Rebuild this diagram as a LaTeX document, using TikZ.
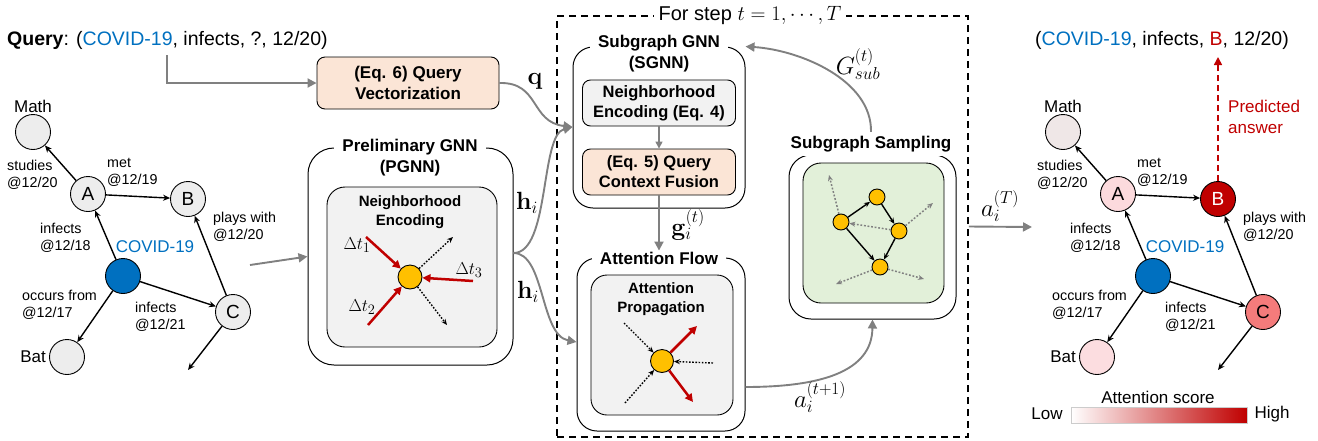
\documentclass[tikz,border=0pt]{standalone}
\usepackage[no-math]{fontspec}
\setmainfont{Liberation Sans}
\usetikzlibrary{arrows.meta,calc}
\definecolor{cblue}{HTML}{0070C0}
\definecolor{cred}{HTML}{C00000}
\definecolor{corange}{HTML}{FBE5D6}
\definecolor{cgrayfill}{HTML}{F2F2F2}
\definecolor{cgreen}{HTML}{E2F0D9}
\definecolor{cyellow}{HTML}{FFC000}
\definecolor{carrow}{HTML}{808080}
\definecolor{cnode}{HTML}{EDEDED}
\definecolor{rmath}{HTML}{EFE7E7}
\definecolor{rA}{HTML}{FCDADD}
\definecolor{rC}{HTML}{F47B7B}
\definecolor{rbat}{HTML}{FCDDE0}
\tikzset{
  gnode/.style={circle,draw=black,line width=0.9pt,minimum size=35pt,inner sep=0pt,font=\fontsize{19}{22}\selectfont},
  lbl/.style={font=\fontsize{17}{20}\selectfont,inner sep=1pt},
  elbl/.style={font=\fontsize{14.3}{17}\selectfont,align=left,anchor=west,inner sep=0pt},
  gedge/.style={draw=black,line width=1.4pt,-{Stealth[length=7pt,width=6pt]}},
  garrow/.style={draw=carrow,line width=1.9pt,-{Triangle[length=9pt,width=9pt]}},
  bigbox/.style={draw=black,line width=1pt,rounded corners=22pt},
  boxtitle/.style={fill=white,font=\bfseries\fontsize{17}{21}\selectfont,align=center,inner xsep=8pt,inner ysep=2pt},
  smallbox/.style={draw=black,line width=0.9pt,rounded corners=8pt,font=\bfseries\fontsize{16.5}{20}\selectfont,align=center,minimum width=153pt,minimum height=46pt,inner sep=0pt},
  innerbox/.style={draw=black,line width=0.9pt,rounded corners=18pt,inner sep=0pt},
  innertxt/.style={font=\bfseries\fontsize{15}{19}\selectfont,align=center,inner sep=0pt},
  ynode/.style={circle,draw=black,line width=0.9pt,fill=cyellow,inner sep=0pt},
  redarr/.style={draw=cred,line width=2.5pt,-{Triangle[length=8pt,width=8pt]}},
  dotarr/.style={draw=black,line width=1.4pt,dash pattern=on 1.6pt off 1.6pt,-{Stealth[length=6pt,width=5pt]}},
  gdotarr/.style={draw=carrow,line width=1.5pt,dash pattern=on 1.8pt off 1.8pt,-{Stealth[length=6pt,width=5pt]}},
  mlbl/.style={font=\fontsize{24}{28}\selectfont,inner sep=0pt},
}
\newcommand\drawkg[8]{%
\begin{scope}[xshift=#2]
\node[gnode,fill=#3] (#1math) at (33,132) {};
\node[lbl] (#1mathl) at (33,106) {Math};
\node[gnode,fill=#4] (#1A) at (88,194) {A};
\node[gnode,fill=#5,text=#8] (#1B) at (188,199) {B};
\node[gnode,fill=cblue] (#1cov) at (123,276) {};
\node[gnode,fill=#6] (#1C) at (233,312) {C};
\node[gnode,fill=#7] (#1bat) at (67,357) {};
\node[lbl,anchor=east] (#1batl) at (47,357) {Bat};
\coordinate (#1end) at (188,370);
\draw[gedge] (#1A) -- (#1math);
\draw[gedge] (#1A) -- (#1B);
\draw[gedge] (#1cov) -- (#1A);
\draw[gedge] (#1cov) -- (#1bat);
\draw[gedge] (#1cov) -- (#1C);
\draw[gedge] (#1C) -- (#1B);
\draw[gedge] (#1C) -- (#1end);
\node[elbl] (#1l1) at (7,175) {studies\\@12/20};
\node[elbl] (#1l2) at (107,172) {met\\@12/19};
\node[elbl] (#1l3) at (213,227) {plays with\\@12/20};
\node[elbl] (#1l4) at (40,238) {infects\\@12/18};
\node[lbl,text=cblue] (#1covl) at (155,247) {COVID-19};
\node[elbl] (#1l5) at (22,305) {occurs from\\@12/17};
\node[elbl] (#1l6) at (135,317) {infects\\@12/21};
\end{scope}}
\begin{document}
\begin{tikzpicture}[x=1pt,y=-1pt]
\useasboundingbox (0,0) rectangle (1318,440);
% ---------- query ----------
\node[font=\fontsize{19.5}{23}\selectfont,anchor=west,inner sep=0pt] (query) at (7,40) {\textbf{Query}: (\textcolor{cblue}{COVID-19}, infects, ?, 12/20)};
\coordinate (qstart) at (167,55);
\node[smallbox,fill=corange,minimum width=182pt,minimum height=52pt,font=\bfseries\fontsize{17}{21}\selectfont] (qv) at (408,83) {(Eq. 6) Query\\Vectorization};
\draw[garrow] (qstart) |- (qv.west);
% ---------- left graph ----------
\drawkg{l}{0pt}{cnode}{cnode}{cnode}{cnode}{cnode}{black}
\coordinate (pin) at (250,265);
% ---------- PGNN ----------
\node[bigbox,minimum width=205pt,minimum height=217pt,rounded corners=26pt] (pgnn) at (410.5,256.5) {};
\node[boxtitle] (pgnnt) at (410,158) {Preliminary GNN\\(PGNN)};
\node[innerbox,fill=cgrayfill,minimum width=170pt,minimum height=160pt] (pne) at (412,267) {};
\node[innertxt] (pnet) at (410,212) {Neighborhood\\Encoding};
\node[ynode,minimum size=24pt] (py) at (410,277) {};
\coordinate (pd1) at (366,237);
\coordinate (pd2) at (368,325);
\coordinate (pd3) at (473,281);
\coordinate (po1) at (453,237);
\coordinate (po2) at (447,325);
\draw[redarr] (pd1) -- (py);
\draw[redarr] (pd2) -- (py);
\draw[redarr] (pd3) -- (py);
\draw[dotarr] (py) -- (po1);
\draw[dotarr] (py) -- (po2);
\node[mlbl,font=\fontsize{19}{22}\selectfont] (dt1) at (357,245) {$\Delta t_1$};
\node[mlbl,font=\fontsize{19}{22}\selectfont] (dt2) at (362,307) {$\Delta t_2$};
\node[mlbl,font=\fontsize{19}{22}\selectfont] (dt3) at (469,270) {$\Delta t_3$};
\draw[garrow] (pin) -- (pgnn.west);
% ---------- loop box ----------
\node[draw=black,line width=1.5pt,dash pattern=on 7pt off 5pt,minimum width=411pt,minimum height=421pt,inner sep=0pt] (loop) at (762.5,226.5) {};
\node[fill=white,font=\fontsize{20}{24}\selectfont,inner xsep=5pt,inner ysep=1pt] (loopt) at (750,15) {For step $t=1,\cdots,T$};
% SGNN
\node[bigbox,minimum width=172pt,minimum height=161pt,rounded corners=20pt] (sgnn) at (659,127.5) {};
\node[boxtitle] (sgnnt) at (659,54) {Subgraph GNN\\(SGNN)};
\node[smallbox,fill=cgrayfill] (ne4) at (659,103) {Neighborhood\\Encoding (Eq. 4)};
\node[smallbox,fill=corange] (qcf) at (659,172) {(Eq. 5) Query\\Context Fusion};
\draw[draw=carrow,line width=1.5pt,-{Triangle[length=7pt,width=7pt]}] (ne4) -- (qcf);
% Attention flow
\node[bigbox,minimum width=168pt,minimum height=173pt,rounded corners=20pt] (af) at (661,344.5) {};
\node[boxtitle,inner ysep=1pt] (aft) at (659,258) {Attention Flow};
\draw[garrow] (qcf) -- (aft);
\node[mlbl] (gl) at (688,225) {$\mathbf{g}_i^{(t)}$};
\node[innerbox,fill=cgrayfill,minimum width=142pt,minimum height=140pt,rounded corners=16pt] (ap) at (662,345) {};
\node[innertxt] (apt) at (661,299) {Attention\\Propagation};
\node[ynode,minimum size=23pt] (ay) at (662,361) {};
\coordinate (ao1) at (697,326);
\coordinate (ao2) at (693,402);
\coordinate (ai1) at (624,323);
\coordinate (ai2) at (713,363);
\coordinate (ai3) at (625,403);
\draw[dotarr] (ai1) -- (ay);
\draw[dotarr] (ai2) -- (ay);
\draw[dotarr] (ai3) -- (ay);
\draw[redarr] (ay) -- (ao1);
\draw[redarr] (ay) -- (ao2);
% Subgraph sampling
\node[bigbox,minimum width=167pt,minimum height=164pt,rounded corners=22pt] (ss) at (872.5,237) {};
\node[boxtitle,inner ysep=4pt] (sst) at (871,144) {Subgraph Sampling};
\node[innerbox,fill=cgreen,minimum width=141pt,minimum height=140pt] (ssin) at (873.5,233) {};
\node[ynode,minimum size=16pt] (s1) at (841,222) {};
\node[ynode,minimum size=16pt] (s2) at (877,197) {};
\node[ynode,minimum size=16pt] (s3) at (899,231) {};
\node[ynode,minimum size=16pt] (s4) at (880,267) {};
\coordinate (so1) at (829,175);
\coordinate (so2) at (933,203);
\coordinate (so3) at (836,284);
\coordinate (so4) at (924,279);
\draw[gdotarr] (s1) -- (so1);
\draw[gdotarr] (s3) -- (s1);
\draw[gdotarr] (s3) -- (so2);
\draw[gdotarr] (s4) -- (so3);
\draw[gdotarr] (s4) -- (so4);
\draw[gedge,line width=1.4pt,-{Stealth[length=6pt,width=5pt]}] (s1) -- (s2);
\draw[gedge,line width=1.4pt,-{Stealth[length=6pt,width=5pt]}] (s2) -- (s3);
\draw[gedge,line width=1.4pt,-{Stealth[length=6pt,width=5pt]}] (s1) -- (s4);
\draw[gedge,line width=1.4pt,-{Stealth[length=6pt,width=5pt]}] (s3) -- (s4);
% loop arrows
\draw[garrow] (sst.north) .. controls (872,80) and (800,50) .. (sgnn.north east);
\node[mlbl] (gsub) at (858,64) {$G_{sub}^{(t)}$};
\draw[garrow] (af.east |- 0,387) .. controls (820,387) and (872,372) .. (ss.south);
\node[mlbl] (ail) at (820,397) {$a_i^{(t+1)}$};
% q and h arrows
\draw[garrow] (qv.east) .. controls (540,82) and (530,122) .. (sgnn.west |- 0,127);
\draw[garrow] (pgnn.east |- 0,253) .. controls (550,253) and (540,135) .. (sgnn.west |- 0,127);
\draw[garrow] (pgnn.east |- 0,253) .. controls (545,253) and (540,335) .. (af.west |- 0,342);
\node[mlbl] (ql) at (535,81) {$\mathbf{q}$};
\node[mlbl] (h1) at (527,203) {$\mathbf{h}_i$};
\node[mlbl] (h2) at (528,292) {$\mathbf{h}_i$};
% ---------- right side ----------
\coordinate (aTend) at (1032,227);
\draw[garrow] (loop.east) -- (aTend);
\node[mlbl] (aTl) at (1000,206) {$a_i^{(T)}$};
\drawkg{r}{1030pt}{rmath}{rA}{cred}{rC}{rbat}{white}
\node[font=\fontsize{19.5}{23}\selectfont,inner sep=0pt] (ans) at (1162,40) {(\textcolor{cblue}{COVID-19}, infects, \textcolor{cred}{B}, 12/20)};
\draw[draw=cred,line width=1.6pt,dash pattern=on 6pt off 4pt,-{Triangle[length=8pt,width=8pt]}] (rB.north) -- (rB.north |- 0,57);
\node[lbl,text=cred,anchor=west,align=left,font=\fontsize{17}{21}\selectfont] (pred) at (1227,117) {Predicted\\answer};
% attention score bar
\node[lbl] (atts) at (1158,397) {Attention score};
\node[draw=black!20,line width=0.8pt,minimum width=176pt,minimum height=16pt,inner sep=0pt,left color=white,right color=cred] (bar) at (1159,415) {};
\node[lbl] (low) at (1047,414) {Low};
\node[lbl] (high) at (1272,414) {High};
\end{tikzpicture}
\end{document}
